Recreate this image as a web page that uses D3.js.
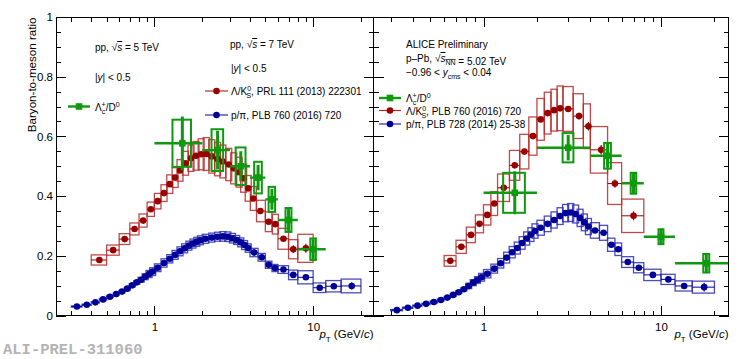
<!DOCTYPE html>
<html><head><meta charset="utf-8">
<script src="https://cdn.jsdelivr.net/npm/d3@7"></script>
<style>
html,body{margin:0;padding:0;background:#fff;}
svg{display:block;font-family:"Liberation Sans",Arial,Helvetica,sans-serif;}
</style></head><body>
<svg id="c" width="747" height="359"></svg>
<script>
// ---------------- DATA ----------------
// Left panel: pp
// Lambda/K0S pp 7 TeV (PRL 111 (2013) 222301)
const ppLK_pt   = [0.45,0.55,0.65,0.75,0.85,0.95,1.05,1.15,1.25,1.35,1.45,1.57,1.70,1.83,1.97,2.12,2.30,2.50,2.70,2.94,3.16,3.42,3.65,3.90,4.20,4.65,5.25,5.78,6.5,7.5,9.0];
const ppLK_val  = [0.186,0.219,0.256,0.290,0.318,0.356,0.383,0.410,0.440,0.462,0.486,0.510,0.527,0.535,0.540,0.541,0.533,0.524,0.516,0.506,0.493,0.480,0.460,0.426,0.392,0.350,0.314,0.306,0.257,0.222,0.225];
const ppLK_stat = [0.002,0.002,0.002,0.002,0.002,0.002,0.002,0.002,0.002,0.002,0.002,0.002,0.002,0.002,0.002,0.002,0.002,0.002,0.002,0.002,0.003,0.004,0.004,0.005,0.006,0.007,0.008,0.009,0.007,0.013,0.015];
const ppLK_syst = [0.017,0.017,0.018,0.020,0.022,0.024,0.026,0.028,0.031,0.033,0.036,0.040,0.044,0.048,0.052,0.055,0.056,0.056,0.055,0.054,0.052,0.050,0.047,0.043,0.040,0.036,0.033,0.033,0.035,0.032,0.047];
const ppLK_edges= [0.40,0.50,0.60,0.70,0.80,0.90,1.00,1.10,1.20,1.30,1.40,1.50,1.63,1.76,1.90,2.05,2.20,2.40,2.60,2.80,3.05,3.30,3.55,3.78,4.05,4.40,5.00,5.50,6.00,7.00,8.00,10.0];

// p/pi pp 7 TeV (PLB 760 (2016) 720)
const ppPP_pt   = [0.325,0.375,0.425,0.475,0.525,0.575,0.625,0.675,0.725,0.775,0.825,0.875,0.925,0.975,1.05,1.15,1.25,1.35,1.45,1.55,1.65,1.75,1.85,1.95,2.1,2.3,2.5,2.7,2.9,3.1,3.3,3.5,3.7,3.9,4.25,4.75,5.25,5.75,6.5,7.5,9.0,11.0,13.5,17.5];
const ppPP_val  = [0.030,0.036,0.044,0.054,0.063,0.072,0.080,0.090,0.101,0.111,0.120,0.130,0.139,0.147,0.160,0.176,0.190,0.203,0.215,0.225,0.234,0.241,0.247,0.252,0.257,0.261,0.264,0.265,0.264,0.259,0.253,0.245,0.236,0.226,0.211,0.195,0.170,0.159,0.154,0.136,0.128,0.093,0.098,0.099];
const ppPP_stat = [0.001,0.001,0.001,0.001,0.001,0.001,0.001,0.001,0.001,0.001,0.001,0.001,0.001,0.001,0.001,0.001,0.001,0.001,0.001,0.001,0.001,0.001,0.001,0.001,0.001,0.001,0.001,0.001,0.002,0.003,0.004,0.005,0.006,0.007,0.012,0.010,0.010,0.010,0.006,0.006,0.008,0.006,0.008,0.012];
const ppPP_syst = [0.002,0.002,0.002,0.003,0.003,0.003,0.004,0.004,0.005,0.006,0.008,0.010,0.012,0.013,0.013,0.014,0.014,0.015,0.015,0.015,0.015,0.015,0.015,0.015,0.015,0.015,0.015,0.016,0.016,0.016,0.015,0.015,0.015,0.014,0.014,0.013,0.012,0.012,0.013,0.016,0.022,0.016,0.019,0.023];
const ppPP_edges= [0.30,0.35,0.40,0.45,0.50,0.55,0.60,0.65,0.70,0.75,0.80,0.85,0.90,0.95,1.0,1.1,1.2,1.3,1.4,1.5,1.6,1.7,1.8,1.9,2.0,2.2,2.4,2.6,2.8,3.0,3.2,3.4,3.6,3.8,4.0,4.5,5.0,5.5,6.0,7.0,8.0,10.0,12.0,15.0,20.0];

// Lambda_c+/D0 pp 5 TeV
const ppLc_pt   = [1.5,2.5,3.5,4.5,5.5,7.0,10.0];
const ppLc_val  = [0.577,0.554,0.500,0.462,0.389,0.320,0.222];
const ppLc_lo   = [1,2,3,4,5,6,8];
const ppLc_hi   = [2,3,4,5,6,8,12];
const ppLc_stat = [0.090,0.065,0.050,0.042,0.035,0.040,0.033];
const ppLc_syst = [0.079,0.070,0.063,0.053,0.042,0.040,0.036];
const ppLc_boxHW= [0.20,0.21,0.25,0.25,0.26,0.30,0.40];

// Right panel: p-Pb 5.02 TeV
// Lambda/K0S (PLB 760 (2016) 720)
const pPbLK_pt   = [0.65,0.75,0.85,0.95,1.05,1.15,1.3,1.5,1.7,1.9,2.1,2.3,2.5,2.7,3.0,3.45,3.9,4.6,5.5,7.0];
const pPbLK_val  = [0.183,0.230,0.270,0.307,0.337,0.375,0.428,0.503,0.549,0.601,0.657,0.678,0.688,0.694,0.692,0.668,0.634,0.555,0.442,0.334];
const pPbLK_stat = [0.002,0.002,0.002,0.002,0.002,0.002,0.002,0.003,0.003,0.003,0.004,0.004,0.004,0.005,0.007,0.011,0.014,0.016,0.014,0.015];
const pPbLK_syst = [0.018,0.022,0.026,0.030,0.034,0.040,0.046,0.050,0.058,0.064,0.070,0.070,0.070,0.075,0.075,0.075,0.075,0.078,0.070,0.056];
const pPbLK_edges= [0.6,0.7,0.8,0.9,1.0,1.1,1.2,1.4,1.6,1.8,2.0,2.2,2.4,2.6,2.8,3.2,3.65,4.0,5.0,6.0,8.0];

// p/pi (PLB 728 (2014) 25-38)
const pPbPP_pt   = [0.325,0.375,0.425,0.475,0.525,0.575,0.625,0.675,0.725,0.775,0.825,0.875,0.925,0.975,1.05,1.15,1.25,1.35,1.45,1.55,1.65,1.75,1.85,1.95,2.1,2.3,2.5,2.7,2.9,3.1,3.3,3.5,3.7,3.9,4.25,4.75,5.25,5.75,6.5,7.5,9.0,11.0,13.5,17.5];
const pPbPP_val  = [0.018,0.026,0.033,0.039,0.045,0.052,0.060,0.069,0.078,0.088,0.099,0.110,0.119,0.128,0.140,0.157,0.175,0.194,0.212,0.226,0.243,0.258,0.271,0.283,0.294,0.307,0.320,0.333,0.343,0.345,0.340,0.327,0.312,0.298,0.285,0.277,0.237,0.222,0.179,0.160,0.136,0.121,0.099,0.095];
const pPbPP_stat = [0.001,0.001,0.001,0.001,0.001,0.001,0.001,0.001,0.001,0.001,0.001,0.001,0.001,0.001,0.001,0.001,0.001,0.001,0.001,0.001,0.001,0.001,0.001,0.001,0.001,0.001,0.001,0.001,0.001,0.001,0.002,0.002,0.002,0.002,0.003,0.003,0.003,0.003,0.003,0.003,0.004,0.004,0.005,0.015];
const pPbPP_syst = [0.002,0.002,0.002,0.002,0.003,0.003,0.003,0.004,0.004,0.005,0.009,0.010,0.011,0.013,0.014,0.015,0.016,0.018,0.019,0.020,0.021,0.022,0.023,0.024,0.025,0.026,0.027,0.028,0.029,0.030,0.030,0.029,0.028,0.027,0.026,0.025,0.022,0.021,0.018,0.017,0.019,0.017,0.017,0.020];
const pPbPP_edges= [0.30,0.35,0.40,0.45,0.50,0.55,0.60,0.65,0.70,0.75,0.80,0.85,0.90,0.95,1.0,1.1,1.2,1.3,1.4,1.5,1.6,1.7,1.8,1.9,2.0,2.2,2.4,2.6,2.8,3.0,3.2,3.4,3.6,3.8,4.0,4.5,5.0,5.5,6.0,7.0,8.0,10.0,12.0,15.0,20.0];

// Lambda_c+/D0 p-Pb
const pPbLc_pt   = [1.5,3.0,5.0,7.0,10.0,18.0];
const pPbLc_val  = [0.411,0.562,0.535,0.443,0.264,0.175];
const pPbLc_lo   = [1,2,4,6,8,12];
const pPbLc_hi   = [2,4,6,8,12,24];
const pPbLc_stat = [0.072,0.043,0.040,0.035,0.025,0.030];
const pPbLc_syst = [0.067,0.049,0.043,0.035,0.025,0.031];
const pPbLc_boxHW= [0.21,0.21,0.22,0.25,0.32,0.70];

// axis ticks
const xMajorTicks = [1,10];
const xMinorTicks = [0.3,0.4,0.5,0.6,0.7,0.8,0.9,2,3,4,5,6,7,8,9,20];
const yMajorTicks = [0,0.2,0.4,0.6,0.8,1];
const yMinorTicks = [0.05,0.1,0.15,0.25,0.3,0.35,0.45,0.5,0.55,0.65,0.7,0.75,0.85,0.9,0.95];
const yTickLabels = ["0","0.2","0.4","0.6","0.8","1"];

// ---------------- STYLE ----------------
const RED_M="#990000", RED_B="#b52a2a";
const BLUE_M="#000099", BLUE_B="#2b2bb0";
const GREEN="#0f990f";

// ---------------- DRAW ----------------
const svg = d3.select("#c");
const yTop=17, yBot=315.5;
const y = d3.scaleLinear().domain([0,1]).range([yBot,yTop]);
const xL = d3.scaleLog().domain([0.24,24]).range([56,373.5]);
const xR = d3.scaleLog().domain([0.24,24]).range([373.5,728.5]);

function axes(g, x, labels){
  const [x0,x1]=x.range();
  const mk=(gen,tx,ty)=>{const a=g.append("g").attr("transform",`translate(${tx},${ty})`).call(gen);
    a.select(".domain").remove();
    a.selectAll("line").attr("stroke","#000").attr("shape-rendering","crispEdges");
    a.selectAll("text").attr("fill","#000").attr("font-size",11.5).attr("font-family",'"Liberation Sans",Arial,sans-serif');
    return a;};
  mk(d3.axisBottom(x).tickValues(xMajorTicks).tickFormat(d3.format("d")).tickSizeInner(-10).tickSizeOuter(0).tickPadding(7),0,yBot);
  mk(d3.axisBottom(x).tickValues(xMinorTicks).tickFormat("").tickSizeInner(-5).tickSizeOuter(0),0,yBot);
  mk(d3.axisTop(x).tickValues(xMajorTicks).tickFormat("").tickSizeInner(-10).tickSizeOuter(0),0,yTop);
  mk(d3.axisTop(x).tickValues(xMinorTicks).tickFormat("").tickSizeInner(-5).tickSizeOuter(0),0,yTop);
  const yl=d3.axisLeft(y).tickValues(yMajorTicks).tickSizeInner(-10).tickSizeOuter(0).tickPadding(3)
     .tickFormat(labels?((d,i)=>yTickLabels[i]):"");
  mk(yl,x0,0);
  mk(d3.axisLeft(y).tickValues(yMinorTicks).tickFormat("").tickSizeInner(-5).tickSizeOuter(0),x0,0);
  mk(d3.axisRight(y).tickValues(yMajorTicks).tickFormat("").tickSizeInner(-10).tickSizeOuter(0),x1,0);
  mk(d3.axisRight(y).tickValues(yMinorTicks).tickFormat("").tickSizeInner(-5).tickSizeOuter(0),x1,0);
  g.append("rect").attr("x",x0).attr("y",yTop).attr("width",x1-x0).attr("height",yBot-yTop)
    .attr("fill","none").attr("stroke","#000").attr("stroke-width",1).attr("shape-rendering","crispEdges");
  // x title
  const t=g.append("text").attr("x",x1).attr("y",337.5).attr("text-anchor","end").attr("font-size",11.5);
  t.append("tspan").attr("font-style","italic").text("p");
  t.append("tspan").attr("font-size",8).attr("dy",4).text("T");
  t.append("tspan").attr("dy",-4).text(" (GeV/");
  t.append("tspan").attr("font-style","italic").text("c");
  t.append("tspan").text(")");
}

function binned(g, x, pt, val, stat, syst, edges, colM, colB){
  const idx=d3.range(pt.length);
  const minW=6;
  const bx=i=>{let a=x(edges[i]), b=x(edges[i+1]); if(b-a<minW){const c=x(pt[i]); a=c-minW/2; b=c+minW/2;} return [a,b];};
  g.append("g").selectAll("rect").data(idx).join("rect")
    .attr("x",i=>bx(i)[0]).attr("width",i=>bx(i)[1]-bx(i)[0])
    .attr("y",i=>y(val[i]+syst[i])).attr("height",i=>y(val[i]-syst[i])-y(val[i]+syst[i]))
    .attr("fill","none").attr("stroke",colB).attr("stroke-width",1.3).attr("stroke-opacity",0.85);
  g.append("g").selectAll("line").data(idx).join("line")
    .attr("x1",i=>bx(i)[0]).attr("x2",i=>bx(i)[1]).attr("y1",i=>y(val[i])).attr("y2",i=>y(val[i]))
    .attr("stroke",colM).attr("stroke-width",1);
  g.append("g").selectAll("line").data(idx).join("line")
    .attr("x1",i=>x(pt[i])).attr("x2",i=>x(pt[i])).attr("y1",i=>y(val[i]-stat[i])).attr("y2",i=>y(val[i]+stat[i]))
    .attr("stroke",colM).attr("stroke-width",1.2);
  g.append("g").selectAll("circle").data(idx).join("circle")
    .attr("cx",i=>x(pt[i])).attr("cy",i=>y(val[i])).attr("r",3.3).attr("fill",colM);
}

function lcSeries(g, x, pt, val, lo, hi, stat, syst, bhw){
  const idx=d3.range(pt.length);
  g.append("g").selectAll("rect").data(idx).join("rect")
    .attr("x",i=>x(pt[i]-bhw[i])).attr("width",i=>x(pt[i]+bhw[i])-x(pt[i]-bhw[i]))
    .attr("y",i=>y(val[i]+syst[i])).attr("height",i=>y(val[i]-syst[i])-y(val[i]+syst[i]))
    .attr("fill","none").attr("stroke",GREEN).attr("stroke-width",2);
  g.append("g").selectAll("line").data(idx).join("line")
    .attr("x1",i=>x(lo[i])).attr("x2",i=>x(hi[i])).attr("y1",i=>y(val[i])).attr("y2",i=>y(val[i]))
    .attr("stroke",GREEN).attr("stroke-width",2.4);
  g.append("g").selectAll("line").data(idx).join("line")
    .attr("x1",i=>x(pt[i])).attr("x2",i=>x(pt[i])).attr("y1",i=>y(val[i]-stat[i])).attr("y2",i=>y(val[i]+stat[i]))
    .attr("stroke",GREEN).attr("stroke-width",3);
  g.append("g").selectAll("rect.m").data(idx).join("rect")
    .attr("x",i=>x(pt[i])-3.3).attr("y",i=>y(val[i])-3.3).attr("width",6.6).attr("height",6.6).attr("fill",GREEN);
}

function panel(x, id, LK, PP, LC, labels){
  const [x0,x1]=x.range();
  const g=svg.append("g");
  svg.append("clipPath").attr("id",id).append("rect").attr("x",x0).attr("y",yTop).attr("width",x1-x0).attr("height",yBot-yTop);
  const d=g.append("g").attr("clip-path",`url(#${id})`);
  binned(d,x,...LK,RED_M,RED_B);
  binned(d,x,...PP,BLUE_M,BLUE_B);
  lcSeries(d,x,...LC);
  axes(g,x,labels);
}

panel(xL,"clipL",[ppLK_pt,ppLK_val,ppLK_stat,ppLK_syst,ppLK_edges],[ppPP_pt,ppPP_val,ppPP_stat,ppPP_syst,ppPP_edges],
  [ppLc_pt,ppLc_val,ppLc_lo,ppLc_hi,ppLc_stat,ppLc_syst,ppLc_boxHW],true);
panel(xR,"clipR",[pPbLK_pt,pPbLK_val,pPbLK_stat,pPbLK_syst,pPbLK_edges],[pPbPP_pt,pPbPP_val,pPbPP_stat,pPbPP_syst,pPbPP_edges],
  [pPbLc_pt,pPbLc_val,pPbLc_lo,pPbLc_hi,pPbLc_stat,pPbLc_syst,pPbLc_boxHW],false);

// y title
svg.append("text").attr("transform","translate(35.5,17.5) rotate(-90)").attr("text-anchor","end")
  .attr("font-size",11.6).text("Baryon-to-meson ratio");

// ---- text helpers ----
function txt(x,yy,fs){return svg.append("text").attr("x",x).attr("y",yy).attr("font-size",fs).attr("fill","#000");}
function sqrtS(t,fs,sub){
  t.append("tspan").text("\u221A");
  t.append("tspan").attr("font-style","italic").attr("text-decoration","overline").text("s");
  if(sub){t.append("tspan").attr("font-size",fs*0.7).attr("dy",3).attr("text-decoration","overline").text(sub);
          t.append("tspan").attr("dy",-3).text("");}
}
function lcText(t,fs){
  t.append("tspan").text("\u039B");
  t.append("tspan").attr("font-size",fs*0.7).attr("dy",3).text("c");
  t.append("tspan").attr("font-size",fs*0.7).attr("dx",-3.6).attr("dy",-7).text("+");
  t.append("tspan").attr("dy",4).text("/D");
  t.append("tspan").attr("font-size",fs*0.7).attr("dy",-4).text("0");
  t.append("tspan").attr("dy",4).text("");
}
function lkText(t,fs,rest){
  t.append("tspan").text("\u039B/K");
  t.append("tspan").attr("font-size",fs*0.7).attr("dy",-4).text("0");
  t.append("tspan").attr("font-size",fs*0.7).attr("dx",-4.6).attr("dy",7).text("S");
  t.append("tspan").attr("dy",-3).text(rest);
}
function legSym(xa,xb,yy,kind,colM,colL){
  svg.append("line").attr("x1",xa).attr("x2",xb).attr("y1",yy).attr("y2",yy).attr("stroke",colL).attr("stroke-width",kind==="sq"?2.4:1.2);
  const xm=(xa+xb)/2;
  if(kind==="sq") svg.append("rect").attr("x",xm-3.3).attr("y",yy-3.3).attr("width",6.6).attr("height",6.6).attr("fill",colM);
  else svg.append("circle").attr("cx",xm).attr("cy",yy).attr("r",3.3).attr("fill",colM);
}

const FS=10;
// left panel
let t=txt(95,51,FS); t.append("tspan").text("pp, "); sqrtS(t,FS); t.append("tspan").text(" = 5 TeV");
t=txt(95,81,FS); t.append("tspan").text("|"); t.append("tspan").attr("font-style","italic").text("y"); t.append("tspan").text("| < 0.5");
legSym(68,90,106.5,"sq",GREEN,GREEN);
t=txt(95,110.5,FS); lcText(t,FS);
t=txt(230,48,FS); t.append("tspan").text("pp, "); sqrtS(t,FS); t.append("tspan").text(" = 7 TeV");
t=txt(231,72,FS); t.append("tspan").text("|"); t.append("tspan").attr("font-style","italic").text("y"); t.append("tspan").text("| < 0.5");
legSym(205,228,91,"c",RED_M,RED_B);
t=txt(231,95,FS); lkText(t,FS,", PRL 111 (2013) 222301");
legSym(205,228,115,"c",BLUE_M,BLUE_B);
t=txt(231,119,FS); t.text("p/\u03C0, PLB 760 (2016) 720");

// right panel
txt(406,48,FS).text("ALICE Preliminary");
t=txt(406,62,FS); t.append("tspan").text("p\u2013Pb, "); sqrtS(t,FS,"NN"); t.append("tspan").text(" = 5.02 TeV");
t=txt(406,76,FS); t.append("tspan").text("\u22120.96 < "); t.append("tspan").attr("font-style","italic").text("y");
  t.append("tspan").attr("font-size",7).attr("dy",3).text("cms"); t.append("tspan").attr("dy",-3).text(" < 0.04");
legSym(379,401,98,"sq",GREEN,GREEN);
t=txt(406,102,FS); lcText(t,FS);
legSym(379,401,110.5,"c",RED_M,RED_B);
t=txt(406,114.5,FS); lkText(t,FS,", PLB 760 (2016) 720");
legSym(379,401,124,"c",BLUE_M,BLUE_B);
t=txt(406,128,FS); t.text("p/\u03C0, PLB 728 (2014) 25-38");

// bottom label
svg.append("text").attr("x",3).attr("y",354).attr("font-family",'"Liberation Mono",monospace').attr("font-weight","bold")
  .attr("font-size",15.5).attr("fill","#b4b4b4").text("ALI-PREL-311060");
</script>
</body></html>
